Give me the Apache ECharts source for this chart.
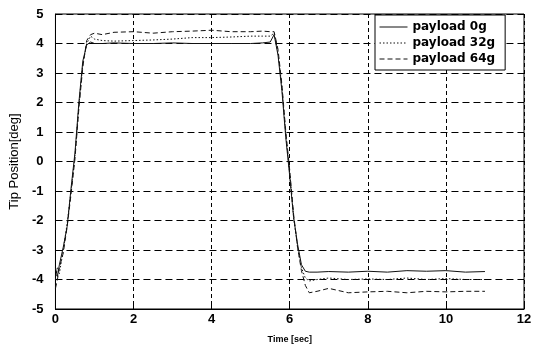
<!DOCTYPE html>
<html><head><meta charset="utf-8">
<script src="https://cdn.jsdelivr.net/npm/echarts@6/dist/echarts.min.js"></script>
<style>html,body{margin:0;padding:0;background:#fff}#c{width:535px;height:349px}</style>
</head><body><div id="c"></div>
<script>
const seriesNames = ['payload 0g', 'payload 32g', 'payload 64g'];
const time = [0, 0.05, 0.1, 0.2, 0.3, 0.4, 0.5, 0.6, 0.7, 0.8, 0.9, 1.0, 1.2, 1.5, 2, 2.5, 3, 3.5, 4, 4.5, 5, 5.3, 5.5, 5.6, 5.7, 5.8, 5.9, 6.0, 6.1, 6.2, 6.3, 6.4, 6.5, 6.7, 7.0, 7.5, 8, 8.5, 9, 9.5, 10, 10.5, 11];
const pos0g  = [-3.6, -3.9, -3.5, -2.9, -2.2, -0.9, 0.3, 2.0, 3.4, 3.95, 4.05, 4.0, 4.0, 4.02, 4.0, 4.0, 4.02, 4.0, 4.0, 4.0, 4.0, 4.02, 4.05, 4.3, 3.6, 2.4, 0.8, -0.5, -1.9, -2.8, -3.5, -3.72, -3.75, -3.75, -3.73, -3.75, -3.72, -3.75, -3.7, -3.72, -3.7, -3.75, -3.73];
const pos32g = [-4.0, -3.6, -3.8, -3.0, -2.1, -1.0, 0.2, 1.9, 3.3, 4.0, 4.25, 4.15, 4.1, 4.08, 4.1, 4.12, 4.15, 4.2, 4.2, 4.22, 4.25, 4.25, 4.25, 4.35, 3.7, 2.5, 0.9, -0.4, -1.9, -2.9, -3.6, -3.95, -4.05, -4.0, -3.95, -4.0, -3.98, -4.0, -3.95, -4.0, -3.97, -4.0, -4.0];
const pos64g = [-4.3, -4.0, -3.6, -3.1, -2.2, -1.1, 0.1, 1.8, 3.2, 4.1, 4.3, 4.35, 4.3, 4.38, 4.4, 4.35, 4.4, 4.42, 4.45, 4.4, 4.4, 4.42, 4.4, 4.4, 3.8, 2.6, 1.0, -0.3, -1.8, -2.9, -3.7, -4.2, -4.45, -4.4, -4.3, -4.45, -4.42, -4.4, -4.45, -4.4, -4.42, -4.4, -4.4];
const xTicks = [0, 2, 4, 6, 8, 10, 12];
const yTicks = [-5, -4, -3, -2, -1, 0, 1, 2, 3, 4, 5];

const allVals = [pos0g, pos32g, pos64g];
const dashes = ['solid', [1.5, 2], [5, 3]];
const chart = echarts.init(document.getElementById('c'));
const labelFont = {color: '#000', fontFamily: 'Liberation Sans, Arial', fontWeight: 'bold', fontSize: 13};
chart.setOption({
  animation: false,
  backgroundColor: '#fff',
  grid: {left: 54, right: 11, top: 14, bottom: 31, show: true, borderColor: '#000', borderWidth: 1, backgroundColor: 'transparent'},
  xAxis: {
    type: 'value', min: xTicks[0], max: xTicks[xTicks.length - 1], interval: 2,
    name: 'Time [sec]', nameLocation: 'middle', nameGap: 26,
    nameTextStyle: {color: '#000', fontFamily: 'Liberation Sans, Arial', fontWeight: 'bold', fontSize: 9},
    axisLine: {show: true, onZero: false, lineStyle: {color: '#000', width: 1}},
    axisTick: {show: true, inside: true, length: 4, lineStyle: {color: '#000'}},
    axisLabel: Object.assign({margin: 4}, labelFont),
    splitLine: {show: true, lineStyle: {color: '#000', type: [4, 3], width: 1}}
  },
  yAxis: {
    type: 'value', min: yTicks[0], max: yTicks[yTicks.length - 1], interval: 1,
    name: 'Tip Position[deg]', nameLocation: 'middle', nameGap: 26,
    nameTextStyle: {color: '#000', fontFamily: 'Liberation Sans, Arial', fontSize: 13},
    axisLine: {show: true, onZero: false, lineStyle: {color: '#000', width: 1}},
    axisTick: {show: true, inside: true, length: 4, lineStyle: {color: '#000'}},
    axisLabel: Object.assign({margin: 12}, labelFont),
    splitLine: {show: true, lineStyle: {color: '#000', type: [7, 4], width: 1}}
  },
  legend: {
    show: true, orient: 'vertical', left: 375, top: 15,
    backgroundColor: '#fff', borderColor: '#000', borderWidth: 1, borderRadius: 0,
    padding: [6, 10, 5, 4], itemGap: 4, itemWidth: 28, itemHeight: 12,
    itemStyle: {color: 'transparent', borderColor: 'transparent', borderWidth: 0},
    lineStyle: {width: 1},
    textStyle: {color: '#000', fontFamily: 'DejaVu Sans, Verdana', fontWeight: 'bold', fontSize: 12},
    data: seriesNames
  },
  series: seriesNames.map((n, i) => ({
    name: n, type: 'line', symbol: 'none', showSymbol: false,
    data: time.map((t, k) => [t, allVals[i][k]]),
    lineStyle: {color: '#111', width: 1, type: dashes[i]},
    itemStyle: {color: '#111'}
  }))
});
</script></body></html>
